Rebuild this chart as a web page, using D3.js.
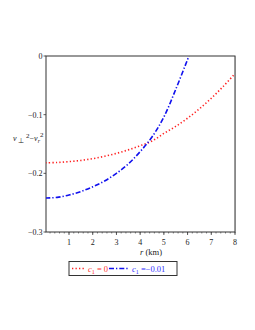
<!DOCTYPE html>
<html><head><meta charset="utf-8">
<script src="https://cdn.jsdelivr.net/npm/d3@7"></script>
<style>body{margin:0;background:#fff}svg{display:block}text{font-family:"Liberation Serif","Times New Roman",serif}</style>
</head><body>
<svg id="c" width="255" height="330"></svg>
<script>
const rVals = [0,0.5,1,1.5,2,2.5,3,3.5,4,4.5,5,5.5,6,6.5,7,7.5,8];
const seriesC0 = [-0.182,-0.1815,-0.180,-0.178,-0.175,-0.171,-0.166,-0.160,-0.153,-0.145,-0.132,-0.120,-0.106,-0.090,-0.072,-0.052,-0.030];
const rValsB = [0,0.5,1,1.5,2,2.5,3,3.5,4,4.5,5,5.5,6,6.06];
const seriesC1 = [-0.242,-0.241,-0.237,-0.231,-0.223,-0.213,-0.200,-0.184,-0.163,-0.138,-0.104,-0.057,-0.006,0];
const xTicks = [1,2,3,4,5,6,7,8];
const yTicks = [0,-0.1,-0.2,-0.3];
const yTickLabels = ["0","\u22120.1","\u22120.2","\u22120.3"];

const svg = d3.select("#c");
const L=46,R=235,T=56,B=232;
const x = d3.scaleLinear().domain([0,8]).range([45.3,R]);
const y = d3.scaleLinear().domain([-0.3,0]).range([B,T]);
const axc="#333";

svg.append("defs").append("clipPath").attr("id","clp").append("rect").attr("x",L).attr("y",T).attr("width",R-L).attr("height",B-T);

// frame
svg.append("rect").attr("x",L).attr("y",T).attr("width",R-L).attr("height",B-T).attr("fill","none").attr("stroke",axc).attr("stroke-width",1);
svg.append("line").attr("x1",R+0.5).attr("x2",R+0.5).attr("y1",T).attr("y2",B).attr("stroke","#888").attr("stroke-width",1);

// x ticks
const minor = d3.range(0.2,8.01,0.2);
svg.selectAll(".mx").data(minor).enter().append("line").attr("x1",d=>x(d)).attr("x2",d=>x(d)).attr("y1",B).attr("y2",B+1.5).attr("stroke",axc).attr("stroke-width",0.6);
svg.selectAll(".Mx").data(xTicks).enter().append("line").attr("x1",d=>x(d)).attr("x2",d=>x(d)).attr("y1",B).attr("y2",B+3).attr("stroke",axc).attr("stroke-width",0.8);
svg.selectAll(".xl").data(xTicks).enter().append("text").attr("x",d=>x(d)).attr("y",B+13).attr("text-anchor","middle").attr("font-size",8).attr("fill","#222").text(d=>d);

// y ticks
svg.selectAll(".yt").data(yTicks).enter().append("line").attr("x1",L-2.5).attr("x2",L).attr("y1",d=>y(d)).attr("y2",d=>y(d)).attr("stroke",axc).attr("stroke-width",0.8);
svg.selectAll(".yl").data(yTicks).enter().append("text").attr("x",L-3.5).attr("y",d=>y(d)+3).attr("text-anchor","end").attr("font-size",8).attr("fill","#222").text((d,i)=>yTickLabels[i]);

// axis labels
const yl = svg.append("text").attr("x",13).attr("y",141).attr("font-size",8).attr("fill","#222");
yl.append("tspan").attr("font-style","italic").text("v");
yl.append("tspan").attr("dy",2).attr("font-size",7).text(" \u22A5");
yl.append("tspan").attr("dy",-5).attr("font-size",7).text(" 2");
yl.append("tspan").attr("dy",3).text("\u2212");
yl.append("tspan").attr("font-style","italic").text("v");
yl.append("tspan").attr("dy",2).attr("font-size",6).attr("font-style","italic").text("r");
yl.append("tspan").attr("dy",-6).attr("font-size",7).text("2");

const xl = svg.append("text").attr("x",151).attr("y",255).attr("text-anchor","middle").attr("font-size",8.5).attr("fill","#222");
xl.append("tspan").attr("font-style","italic").text("r");
xl.append("tspan").text(" (km)");

const line = d3.line().x(d=>x(d[0])).y(d=>y(d[1])).curve(d3.curveCatmullRom);
const g = svg.append("g").attr("clip-path","url(#clp)");
g.append("path").attr("d",line(rVals.map((r,i)=>[r,seriesC0[i]]))).attr("fill","none").attr("stroke","#ff2020").attr("stroke-width",1.6).attr("stroke-dasharray","1.3,2.2");
g.append("path").attr("d",line(rValsB.map((r,i)=>[r,seriesC1[i]]))).attr("fill","none").attr("stroke","#1010ee").attr("stroke-width",1.6).attr("stroke-dasharray","5,2,1.3,2");

// legend
svg.append("rect").attr("x",69).attr("y",261.5).attr("width",108).attr("height",14).attr("fill","#fff").attr("stroke","#333").attr("stroke-width",1);
svg.append("line").attr("x1",72).attr("x2",85).attr("y1",268.5).attr("y2",268.5).attr("stroke","#ff2020").attr("stroke-width",1.6).attr("stroke-dasharray","1.3,2.2");
const t1 = svg.append("text").attr("x",88).attr("y",271.5).attr("font-size",8.5).attr("fill","#ff3030");
t1.append("tspan").attr("font-style","italic").text("c");
t1.append("tspan").attr("dy",2).attr("font-size",6).text("1");
t1.append("tspan").attr("dy",-2).text(" = 0");
svg.append("line").attr("x1",109).attr("x2",129).attr("y1",268.5).attr("y2",268.5).attr("stroke","#1010ee").attr("stroke-width",1.6).attr("stroke-dasharray","5,2,1.3,2");
const t2 = svg.append("text").attr("x",132).attr("y",271.5).attr("font-size",8.5).attr("fill","#3030ff");
t2.append("tspan").attr("font-style","italic").text("c");
t2.append("tspan").attr("dy",2).attr("font-size",6).text("1");
t2.append("tspan").attr("dy",-2).text(" =\u22120.01");
</script>
</body></html>
